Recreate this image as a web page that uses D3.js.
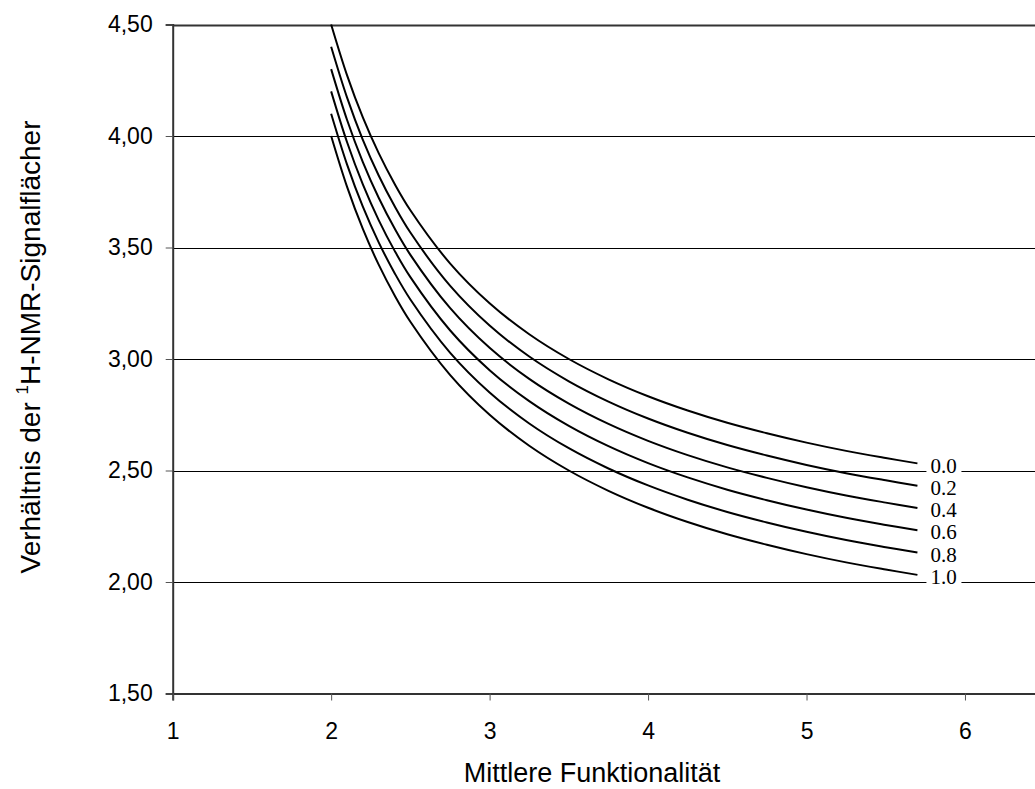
<!DOCTYPE html>
<html>
<head>
<meta charset="utf-8">
<script src="https://cdn.jsdelivr.net/npm/d3@7"></script>
<style>
  html, body { margin: 0; padding: 0; background: #fff; }
  svg { display: block; }
</style>
</head>
<body>
<svg id="chart" width="1035" height="789"></svg>
<script>
// Mittlere Funktionalität (x) at which each curve is sampled
const functionality = [2.0, 2.1, 2.2, 2.3, 2.4, 2.5, 2.75, 3.0, 3.25, 3.5, 3.75, 4.0, 4.25, 4.5, 4.75, 5.0, 5.25, 5.5, 5.7];

// Curve labels (parameter value of each curve)
const curveLabels = ["0.0", "0.2", "0.4", "0.6", "0.8", "1.0"];

// Signal-area ratio for each curve
const ratio00 = [4.500, 4.273, 4.083, 3.923, 3.786, 3.667, 3.429, 3.250, 3.111, 3.000, 2.909, 2.833, 2.769, 2.714, 2.667, 2.625, 2.588, 2.556, 2.532];
const ratio02 = [4.400, 4.173, 3.983, 3.823, 3.686, 3.567, 3.329, 3.150, 3.011, 2.900, 2.809, 2.733, 2.669, 2.614, 2.567, 2.525, 2.488, 2.456, 2.432];
const ratio04 = [4.300, 4.073, 3.883, 3.723, 3.586, 3.467, 3.229, 3.050, 2.911, 2.800, 2.709, 2.633, 2.569, 2.514, 2.467, 2.425, 2.388, 2.356, 2.332];
const ratio06 = [4.200, 3.973, 3.783, 3.623, 3.486, 3.367, 3.129, 2.950, 2.811, 2.700, 2.609, 2.533, 2.469, 2.414, 2.367, 2.325, 2.288, 2.256, 2.232];
const ratio08 = [4.100, 3.873, 3.683, 3.523, 3.386, 3.267, 3.029, 2.850, 2.711, 2.600, 2.509, 2.433, 2.369, 2.314, 2.267, 2.225, 2.188, 2.156, 2.132];
const ratio10 = [4.000, 3.773, 3.583, 3.423, 3.286, 3.167, 2.929, 2.750, 2.611, 2.500, 2.409, 2.333, 2.269, 2.214, 2.167, 2.125, 2.088, 2.056, 2.032];

// Axis ticks
const xTicks = [1, 2, 3, 4, 5, 6];
const yTicks = [1.5, 2.0, 2.5, 3.0, 3.5, 4.0, 4.5];

const series = [ratio00, ratio02, ratio04, ratio06, ratio08, ratio10].map((vals, i) => ({
  label: curveLabels[i],
  points: functionality.map((x, j) => ({ x, y: vals[j] }))
}));

const svg = d3.select("#chart");

const x = d3.scaleLinear().domain([1, 6.5]).range([172.7, 1044.2]);
const y = d3.scaleLinear().domain([1.5, 4.5]).range([693.5, 24.5]);

const de = d3.formatLocale({ decimal: ",", thousands: ".", grouping: [3], currency: ["", " €"] });
const fmtY = de.format(".2f");

// Horizontal grid lines
svg.append("g")
  .selectAll("line")
  .data(yTicks.filter(v => v > 1.5))
  .join("line")
  .attr("x1", x(1)).attr("x2", 1035)
  .attr("y1", d => Math.round(y(d)) + 0.5).attr("y2", d => Math.round(y(d)) + 0.5)
  .attr("stroke", d => d === 4.5 ? "#333" : "#000")
  .attr("stroke-width", d => d === 4.5 ? 2 : 1);

// Y axis
const yAxis = svg.append("g")
  .attr("transform", `translate(${x(1)},0)`)
  .call(d3.axisLeft(y).tickValues(yTicks).tickFormat(fmtY).tickSize(7).tickPadding(13));
yAxis.select(".domain").attr("stroke", "#333").attr("stroke-width", 2);
yAxis.selectAll(".tick line").attr("stroke", "#555");
yAxis.selectAll(".tick text")
  .attr("font-family", "'Liberation Sans', Arial, Helvetica, sans-serif")
  .attr("font-size", 23).attr("fill", "#000");

// X axis
const xAxis = svg.append("g")
  .attr("transform", `translate(0,${y(1.5)})`)
  .call(d3.axisBottom(x).tickValues(xTicks).tickFormat(d3.format("d")).tickSize(7).tickPadding(22));
xAxis.select(".domain").attr("stroke", "#333").attr("stroke-width", 2);
xAxis.selectAll(".tick line").attr("stroke", "#555");
xAxis.selectAll(".tick text")
  .attr("font-family", "'Liberation Sans', Arial, Helvetica, sans-serif")
  .attr("font-size", 23).attr("fill", "#000");

// Curves
const line = d3.line()
  .x(d => x(d.x))
  .y(d => y(d.y))
  .curve(d3.curveCatmullRom);

svg.append("g")
  .selectAll("path")
  .data(series)
  .join("path")
  .attr("d", d => line(d.points))
  .attr("fill", "none")
  .attr("stroke", "#000")
  .attr("stroke-width", 2);

// Curve labels at the end of each curve
const labels = svg.append("g");
series.forEach(s => {
  const last = s.points[s.points.length - 1];
  const lx = x(last.x) + 9;
  const ly = y(last.y) + 2;
  labels.append("rect")
    .attr("x", lx).attr("y", ly - 9)
    .attr("width", 35).attr("height", 18)
    .attr("fill", "#fff");
  labels.append("text")
    .attr("x", lx + 4).attr("y", ly)
    .attr("dy", "0.34em")
    .attr("font-family", "'Liberation Serif', 'Times New Roman', serif")
    .attr("font-size", 21)
    .attr("fill", "#000")
    .text(s.label);
});

// Axis titles
svg.append("text")
  .attr("x", 592).attr("y", 782)
  .attr("text-anchor", "middle")
  .attr("font-family", "'Liberation Sans', Arial, Helvetica, sans-serif")
  .attr("font-size", 27)
  .text("Mittlere Funktionalität");

const yTitle = svg.append("text")
  .attr("transform", "translate(40,347) rotate(-90)")
  .attr("text-anchor", "middle")
  .attr("font-family", "'Liberation Sans', Arial, Helvetica, sans-serif")
  .attr("font-size", 28);
yTitle.append("tspan").text("Verhältnis der  ");
yTitle.append("tspan").attr("font-size", 17).attr("dy", -12).text("1");
yTitle.append("tspan").attr("dy", 12).text("H-NMR-Signalflächer");
</script>
</body>
</html>
